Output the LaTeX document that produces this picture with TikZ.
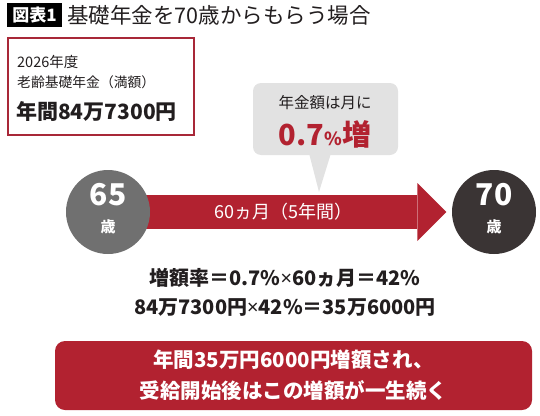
\documentclass[tikz,border=0pt]{standalone}
\usepackage{fontspec}
\setmainfont{Noto Sans CJK JP}
\newfontfamily\latinsans{Noto Sans}
\usetikzlibrary{arrows.meta,positioning,calc,backgrounds}
\definecolor{kred}{RGB}{178,34,48}
\definecolor{kframe}{RGB}{168,40,56}
\definecolor{kink}{RGB}{34,30,31}
\definecolor{kgray}{RGB}{112,112,112}
\definecolor{kdark}{RGB}{58,52,52}
\definecolor{kbubble}{RGB}{226,226,226}
\newcommand{\kx}{{\latinsans\bfseries ×}}

\begin{document}
\begin{tikzpicture}[x=1pt,y=-1pt,text=kink,
  fs/.style={font=\fontsize{#1}{#1}\selectfont},
  bfs/.style={font=\bfseries\fontsize{#1}{#1}\selectfont},
  agecircle/.style={circle,fill=#1,minimum size=84pt,inner sep=0pt},
  band/.style={kred,line width=34pt,-{Triangle[length=29pt,width=58pt,line width=0pt]}}]
  \useasboundingbox (0,0) rectangle (540,415);

  % title
  \node[fill=black,text=white,bfs=17,minimum width=55pt,minimum height=24pt,inner sep=0pt] (tag) at (34.5,15) {図表1};
  \node[fs=21.5,anchor=west,inner sep=0pt] (title) at (67,15) {基礎年金を70歳からもらう場合};

  % full pension box
  \node[draw=kframe,line width=1.5pt,minimum width=186pt,minimum height=97pt] (info) at (101,86.5) {};
  \node[fs=14.5,anchor=west,inner sep=0pt] (year) at (17,62) {2026年度};
  \node[fs=13.8,anchor=west,inner sep=0pt] (kind) at (17,82) {老齢基礎年金（満額）};
  \node[bfs=21,anchor=west,inner sep=0pt] (amount) at (16,111) {年間84万7300円};

  % speech bubble
  \node[fill=kbubble,rounded corners=8pt,minimum width=145pt,minimum height=72pt] (bubble) at (325.5,119) {};
  \coordinate (tip) at (319,192);
  \fill[kbubble] ($(bubble.south)+(-16.5,-2)$) -- (tip) -- ($(bubble.south)+(5.5,-2)$) -- cycle;
  \node[fs=15.5,inner sep=0pt] (monthly) at (325,103) {年金額は月に};
  \node[bfs=29,text=kred,inner sep=0pt] (rate) at (325,134) {0.7{\fontsize{18}{18}\selectfont\%}増};

  % ages and arrow
  \node[agecircle=kgray] (c65) at (108,212) {};
  \node[agecircle=kdark] (c70) at (494,212) {};
  \node[bfs=30,text=white,anchor=base,inner sep=0pt] (n65) at (108,205) {65};
  \node[bfs=15,text=white,anchor=base,inner sep=0pt] (s65) at (108,232) {歳};
  \node[bfs=30,text=white,anchor=base,inner sep=0pt] (n70) at (494,205) {70};
  \node[bfs=15,text=white,anchor=base,inner sep=0pt] (s70) at (494,232) {歳};
  \begin{scope}[on background layer]
    \draw[band,shorten >=5.5pt] (c65.center) -- (c70.west)
      node[pos=0.51,fs=18,text=white] (span) {60ヵ月（5年間）};
  \end{scope}

  % calculation
  \node[align=center,font=\bfseries\fontsize{20}{29}\selectfont] (calc) at (285,292.5)
    {増額率＝0.7\%\kx60ヵ月＝42\%\\84万7300円\kx42\%＝35万6000円};

  % result
  \node[fill=kred,rounded corners=10pt,minimum width=477pt,minimum height=69pt,text=white,align=center,
    font=\bfseries\fontsize{20.5}{31}\selectfont] (result) at (293.5,375.5)
    {年間35万円6000円増額され、\\受給開始後はこの増額が一生続く};
\end{tikzpicture}
\end{document}
